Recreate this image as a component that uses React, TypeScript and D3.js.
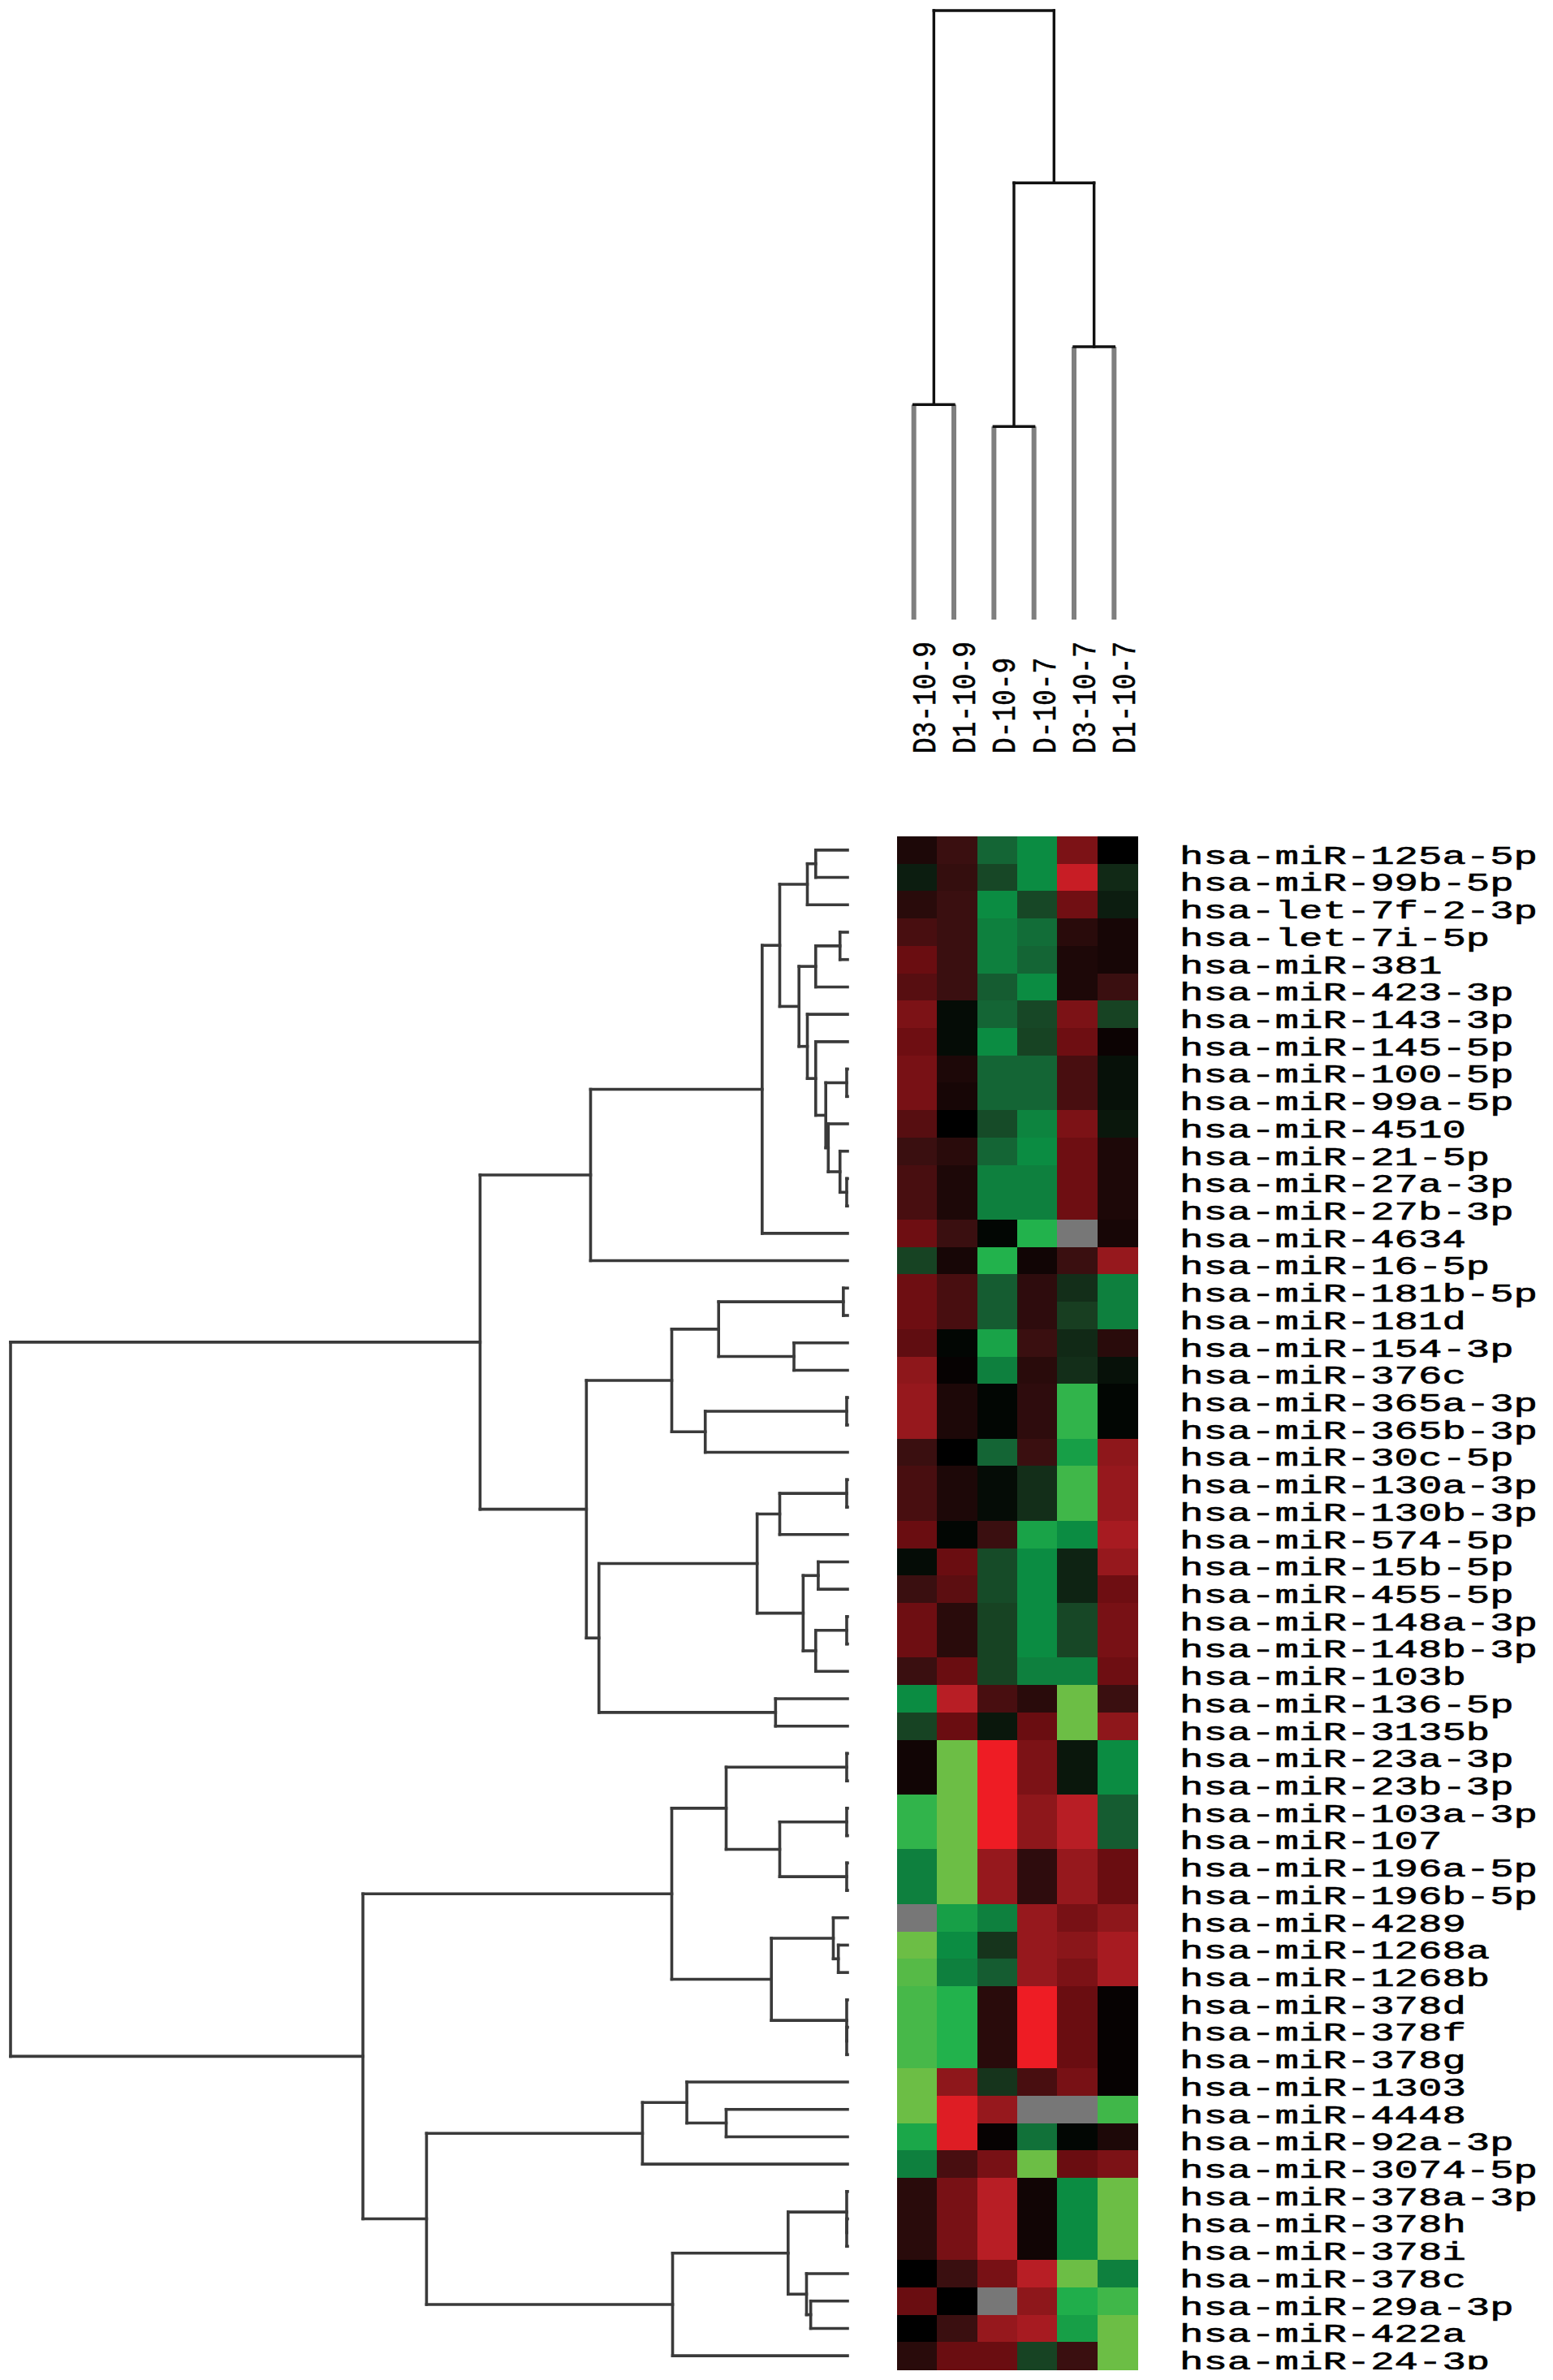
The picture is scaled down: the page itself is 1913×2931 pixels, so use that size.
import React from 'react';
import * as d3 from 'd3';

// ---------------- data ----------------
const colLabels = ['D3-10-9', 'D1-10-9', 'D-10-9', 'D-10-7', 'D3-10-7', 'D1-10-7'];

const rowLabels = [
  'hsa-miR-125a-5p', 'hsa-miR-99b-5p', 'hsa-let-7f-2-3p', 'hsa-let-7i-5p', 'hsa-miR-381',
  'hsa-miR-423-3p', 'hsa-miR-143-3p', 'hsa-miR-145-5p', 'hsa-miR-100-5p', 'hsa-miR-99a-5p',
  'hsa-miR-4510', 'hsa-miR-21-5p', 'hsa-miR-27a-3p', 'hsa-miR-27b-3p', 'hsa-miR-4634',
  'hsa-miR-16-5p', 'hsa-miR-181b-5p', 'hsa-miR-181d', 'hsa-miR-154-3p', 'hsa-miR-376c',
  'hsa-miR-365a-3p', 'hsa-miR-365b-3p', 'hsa-miR-30c-5p', 'hsa-miR-130a-3p', 'hsa-miR-130b-3p',
  'hsa-miR-574-5p', 'hsa-miR-15b-5p', 'hsa-miR-455-5p', 'hsa-miR-148a-3p', 'hsa-miR-148b-3p',
  'hsa-miR-103b', 'hsa-miR-136-5p', 'hsa-miR-3135b', 'hsa-miR-23a-3p', 'hsa-miR-23b-3p',
  'hsa-miR-103a-3p', 'hsa-miR-107', 'hsa-miR-196a-5p', 'hsa-miR-196b-5p', 'hsa-miR-4289',
  'hsa-miR-1268a', 'hsa-miR-1268b', 'hsa-miR-378d', 'hsa-miR-378f', 'hsa-miR-378g',
  'hsa-miR-1303', 'hsa-miR-4448', 'hsa-miR-92a-3p', 'hsa-miR-3074-5p', 'hsa-miR-378a-3p',
  'hsa-miR-378h', 'hsa-miR-378i', 'hsa-miR-378c', 'hsa-miR-29a-3p', 'hsa-miR-422a',
  'hsa-miR-24-3p',
];

// expression values per sample (null = missing)
const D3_10_9 = [0.5, -0.5, 0.7, 1.3, 2, 1.6, 2.5, 2.1, 2.4, 2.4, 1.6, 1, 1.3, 1.3, 2.1, -1.2, 2.1, 2.1, 1.8, 3, 3.2, 3.2, 1, 1.3, 1.3, 2, -0.2, 1, 2.1, 2.1, 1, -3, -1.2, 0.3, 0.3, -4.2, -4.2, -2.7, -2.7, null, -5, -4.7, -4.5, -4.5, -4.5, -5, -5, -3.7, -2.7, 0.7, 0.7, 0.7, 0, 2, 0, 0.7];
const D1_10_9 = [1, 0.9, 1, 1, 1, 1, -0.2, -0.2, 0.5, 0.4, 0, 0.7, 0.5, 0.5, 1, 0.4, 1.3, 1.3, -0.1, 0.1, 0.5, 0.5, 0, 0.5, 0.5, -0.1, 2, 1.7, 0.7, 0.7, 2, 4, 2, -5, -5, -5, -5, -5, -5, -3.5, -3, -2.7, -4, -4, -4, 3, 4.7, 4.7, 1.3, 2.4, 2.4, 2.4, 1, 0, 1, 2];
const D_10_9 = [-2, -1.3, -3, -2.7, -2.7, -1.8, -2, -3, -2, -2, -1.4, -2, -2.7, -2.7, -0.1, -4, -1.8, -1.8, -3.6, -2.7, -0.1, -0.1, -2, -0.2, -0.2, 1, -1.4, -1.4, -1.2, -1.2, -1.2, 1.3, -0.4, 5, 5, 5, 5, 3.2, 3.2, -2.7, -0.9, -1.8, 0.7, 0.7, 0.7, -0.9, 3.2, 0.1, 2.4, 4, 4, 4, 2.4, null, 3.2, 2];
const D_10_7 = [-3, -3, -1.3, -2.2, -2, -3, -1.3, -1.2, -2, -2, -2.8, -3, -2.7, -2.7, -4, 0.3, 0.8, 0.8, 1, 0.7, 0.8, 0.8, 1, -0.8, -0.8, -3.6, -3, -3, -3, -3, -2.7, 0.7, 2, 2.5, 2.5, 3, 3, 0.8, 0.8, 3.2, 3.2, 3.2, 5, 5, 5, 1.3, null, -2.3, -5, 0.3, 0.3, 0.3, 4, 3, 3.6, -1.2];
const D3_10_7 = [2.5, 4.3, 2.2, 0.7, 0.5, 0.5, 2.5, 2.1, 1.3, 1.3, 2.5, 2.1, 2.1, 2.1, null, 1, -0.8, -1.1, -0.7, -0.8, -4.2, -4.2, -3.5, -4.4, -4.4, -3, -0.6, -0.6, -1.3, -1.3, -2.7, -5, -5, -0.4, -0.4, 4, 4, 3.2, 3.2, 2.4, 2.9, 2.5, 2, 2, 2, 2.4, null, -0.1, 2, -3, -3, -3, -5, -3.9, -3.5, 1];
const D1_10_7 = [0, -0.7, -0.5, 0.4, 0.4, 1, -1.2, 0.2, -0.3, -0.3, -0.4, 0.5, 0.5, 0.5, 0.4, 3.2, -2.7, -2.7, 0.7, -0.3, -0.1, -0.1, 3, 3.2, 3.2, 3.6, 3.2, 2.1, 2.4, 2.4, 2.1, 1, 3, -3, -3, -1.8, -1.8, 2, 2, 3, 3.6, 3.6, 0.1, 0.1, 0.1, 0.1, -4.4, 0.5, 2.5, -5, -5, -5, -2.7, -4.4, -5, -5];

const sampleValues = [D3_10_9, D1_10_9, D_10_9, D_10_7, D3_10_7, D1_10_7];

// dendrograms: [mergeHeight, left, right] or leaf index
type Tree = number | [number, Tree, Tree];

const rowTree: Tree = [1.0,
  [0.439,
    [0.307,
      [0.102,
        [0.081,
          [0.048, [0.038, 0, 1], 2],
          [0.058,
            [0.038, [0.009, 3, 4], 5],
            [0.048, 6,
              [0.038, 7,
                [0.026, [0.001, 8, 9],
                  [0.023, 10, [0.009, 11, [0.001, 12, 13]]]]]]]],
        14],
      15],
    [0.312,
      [0.21,
        [0.154, [0.005, 16, 17], [0.064, 18, 19]],
        [0.17, [0.001, 20, 21], 22]],
      [0.297,
        [0.108,
          [0.081, [0.001, 23, 24], 25],
          [0.053, [0.035, 26, 27], [0.038, [0.001, 28, 29], 30]]],
        [0.086, 31, 32]]]],
  [0.579,
    [0.21,
      [0.145, [0.001, 33, 34], [0.081, [0.001, 35, 36], [0.001, 37, 38]]],
      [0.091, [0.017, 39, [0.011, 40, 41]], [0.001, 42, [0.001, 43, 44]]]],
    [0.503,
      [0.245, [0.192, 45, [0.145, 46, 47]], 48],
      [0.209,
        [0.071, [0.001, 49, [0.001, 50, 51]], [0.049, 52, [0.044, 53, 54]]],
        55]]]];

const colTree: Tree = [1.0, [0.353, 0, 1], [0.717, [0.317, 2, 3], [0.448, 4, 5]]];

// colour ramp (value -> colour)
const colorStops = [-5, -4, -3, -2, -1, 0, 1, 2, 3, 4, 5];
const colorRamp = ['#6CBE45', '#22B24C', '#0B8C42', '#146535', '#183A1F', '#000000',
  '#3A0F10', '#6A0D11', '#8E171B', '#B81E25', '#EE1C24'];
const missingColor = '#777777';

// ---------------- layout helpers ----------------
interface Seg { a: [number, number]; b: [number, number]; leafStem: boolean }

function layoutTree(
  tree: Tree,
  leafPos: (i: number) => number,
  hPos: (h: number) => number,
  toXY: (p: number, q: number) => [number, number],
  segs: Seg[],
): { p: number; h: number; leaf: boolean } {
  if (typeof tree === 'number') return { p: leafPos(tree), h: 0, leaf: true };
  const [h, l, r] = tree;
  const A = layoutTree(l, leafPos, hPos, toXY, segs);
  const B = layoutTree(r, leafPos, hPos, toXY, segs);
  const q = hPos(h);
  segs.push({ a: toXY(A.p, q), b: toXY(B.p, q), leafStem: false });
  for (const c of [A, B]) {
    segs.push({ a: toXY(c.p, q), b: toXY(c.p, hPos(c.h)), leafStem: c.leaf });
  }
  return { p: (A.p + B.p) / 2, h, leaf: false };
}

export default function App() {
  const W = 1913;
  const H = 2931;
  const heatX0 = 1105, heatX1 = 1401, heatY0 = 1030, heatY1 = 2918;

  const xCol = d3.scaleBand<number>().domain(d3.range(colLabels.length)).range([heatX0, heatX1]);
  const yRow = d3.scaleBand<number>().domain(d3.range(rowLabels.length)).range([heatY0, heatY1]);
  const cw = xCol.bandwidth();
  const rh = yRow.bandwidth();

  const color = d3.scaleLinear<string>().domain(colorStops).range(colorRamp)
    .interpolate(d3.interpolateRgb).clamp(true);

  // row dendrogram (leaves on the right, root on the left)
  const rowH = d3.scaleLinear().domain([0, 1]).range([1044, 13]);
  const rowSegs: Seg[] = [];
  layoutTree(rowTree, (i) => (yRow(i) as number) + rh / 2, rowH, (p, q) => [q, p], rowSegs);

  // column dendrogram (leaves at the bottom, root on top)
  const colH = d3.scaleLinear().domain([0, 1]).range([763, 13]);
  const colSegs: Seg[] = [];
  layoutTree(colTree, (i) => (xCol(i) as number) + cw / 2 - 4, colH, (p, q) => [p, q], colSegs);

  const rowCharW = 29.4;
  const colCharW = 19.7;

  return (
    <svg width={W} height={H} viewBox={`0 0 ${W} ${H}`}
      style={{ position: 'absolute', left: 0, top: 0, background: '#fff', display: 'block' }}>
      <defs>
        <clipPath id="clipBottom">
          <rect x={0} y={0} width={W} height={heatY1} />
        </clipPath>
      </defs>
      <rect x={0} y={0} width={W} height={H} fill="#fff" />

      {/* column dendrogram */}
      <g>
        {colSegs.filter((s) => s.leafStem).map((s, i) => (
          <line key={'cl' + i} x1={s.a[0]} y1={s.a[1]} x2={s.b[0]} y2={s.b[1]}
            stroke="#7f7f7f" strokeWidth={6} />
        ))}
        {colSegs.filter((s) => !s.leafStem).map((s, i) => (
          <line key={'cs' + i} x1={s.a[0]} y1={s.a[1]} x2={s.b[0]} y2={s.b[1]}
            stroke="#111" strokeWidth={3.4} strokeLinecap="square" />
        ))}
      </g>

      {/* column labels */}
      <g fontFamily="'Liberation Mono', 'Courier New', monospace" fontSize={41} fill="#000"
        stroke="#000" strokeWidth={0.6}>
        {colLabels.map((lab, i) => {
          const cx = (xCol(i) as number) + cw / 2 + 22;
          return (
            <text key={lab + i} transform={`translate(${cx},928) rotate(-90)`}
              textLength={lab.length * colCharW} lengthAdjust="spacingAndGlyphs">
              {lab}
            </text>
          );
        })}
      </g>

      {/* row dendrogram */}
      <g>
        {rowSegs.map((s, i) => (
          <line key={'rs' + i} x1={s.a[0]} y1={s.a[1]} x2={s.b[0]} y2={s.b[1]}
            stroke="#3a3a3a" strokeWidth={3.6} strokeLinecap="square" />
        ))}
      </g>

      {/* heatmap */}
      <g shapeRendering="crispEdges">
        {sampleValues.map((vals, ci) =>
          vals.map((v, ri) => (
            <rect key={ci + '-' + ri}
              x={xCol(ci) as number} y={yRow(ri) as number}
              width={cw + 0.5} height={rh + 0.5}
              fill={v === null ? missingColor : color(v)} />
          )))}
      </g>

      {/* row labels */}
      <g clipPath="url(#clipBottom)" fontFamily="'Liberation Mono', 'Courier New', monospace"
        fontSize={31} fill="#000" stroke="#000" strokeWidth={0.6}>
        {rowLabels.map((lab, i) => (
          <text key={lab} x={1453} y={(yRow(i) as number) + rh}
            textLength={lab.length * rowCharW} lengthAdjust="spacingAndGlyphs">
            {lab}
          </text>
        ))}
      </g>
    </svg>
  );
}
